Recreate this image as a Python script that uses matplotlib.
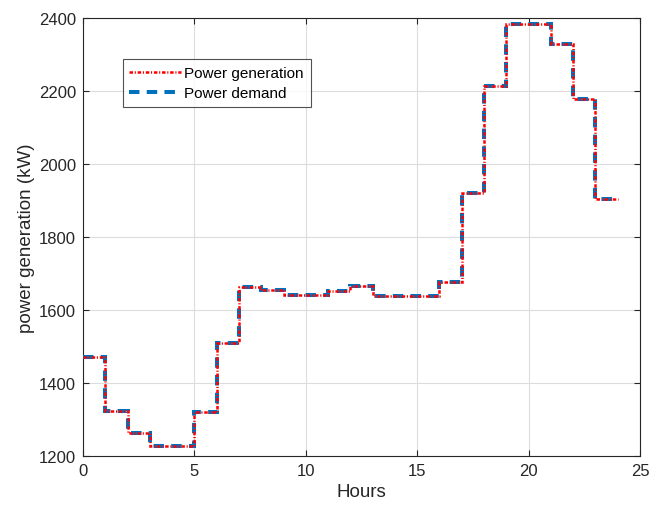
import matplotlib
matplotlib.use("Agg")
import matplotlib.pyplot as plt
import numpy as np

plt.rcParams['font.family'] = ['Liberation Sans', 'DejaVu Sans']

hours = list(range(25))
power_demand = [1470, 1322, 1262, 1228, 1228, 1320, 1510, 1662, 1656, 1642, 1642,
                1651, 1667, 1639, 1639, 1639, 1677, 1920, 2215, 2384, 2384,
                2330, 2177, 1904]
power_generation = list(power_demand)

fig = plt.figure(figsize=(6.66, 5.10), dpi=100)
ax = fig.add_axes([83/666, 1-457/510, (640-83)/666, (457-19)/510])

ax.stairs(power_demand, hours, baseline=None, color='#0072BD', linewidth=2.9,
          linestyle=(0, (2.6, 1.8)), label='Power demand', zorder=3)
ax.stairs(power_generation, hours, baseline=None, color='red', linewidth=1.8,
          linestyle=(0, (1.4, 0.7, 0.45, 0.7)), label='Power generation', zorder=4)

ax.set_xlim(0, 25)
ax.set_ylim(1200, 2400)
ax.set_xticks([0, 5, 10, 15, 20, 25])
ax.set_yticks([1200, 1400, 1600, 1800, 2000, 2200, 2400])
ax.grid(True, color='#dcdcdc', linewidth=0.8)
ax.set_axisbelow(True)
ax.tick_params(direction='in', top=True, right=True, labelsize=12, colors='#262626',
               length=4, pad=5)
for s in ax.spines.values():
    s.set_color('#262626')
    s.set_linewidth(0.8)
ax.set_xlabel('Hours', fontsize=13.5, color='#262626', labelpad=4)
ax.set_ylabel('power generation (kW)', fontsize=13.5, color='#262626', labelpad=3)

handles, labels = ax.get_legend_handles_labels()
leg = ax.legend(handles[::-1], labels[::-1], loc='upper left', bbox_to_anchor=(0.071, 0.906),
                fontsize=11, frameon=True, fancybox=False, edgecolor='#262626',
                handlelength=3.4, borderpad=0.45, labelspacing=0.38, handletextpad=0.2,
                borderaxespad=0)
leg.get_frame().set_linewidth(0.8)

fig.savefig('out.png', dpi=100)
